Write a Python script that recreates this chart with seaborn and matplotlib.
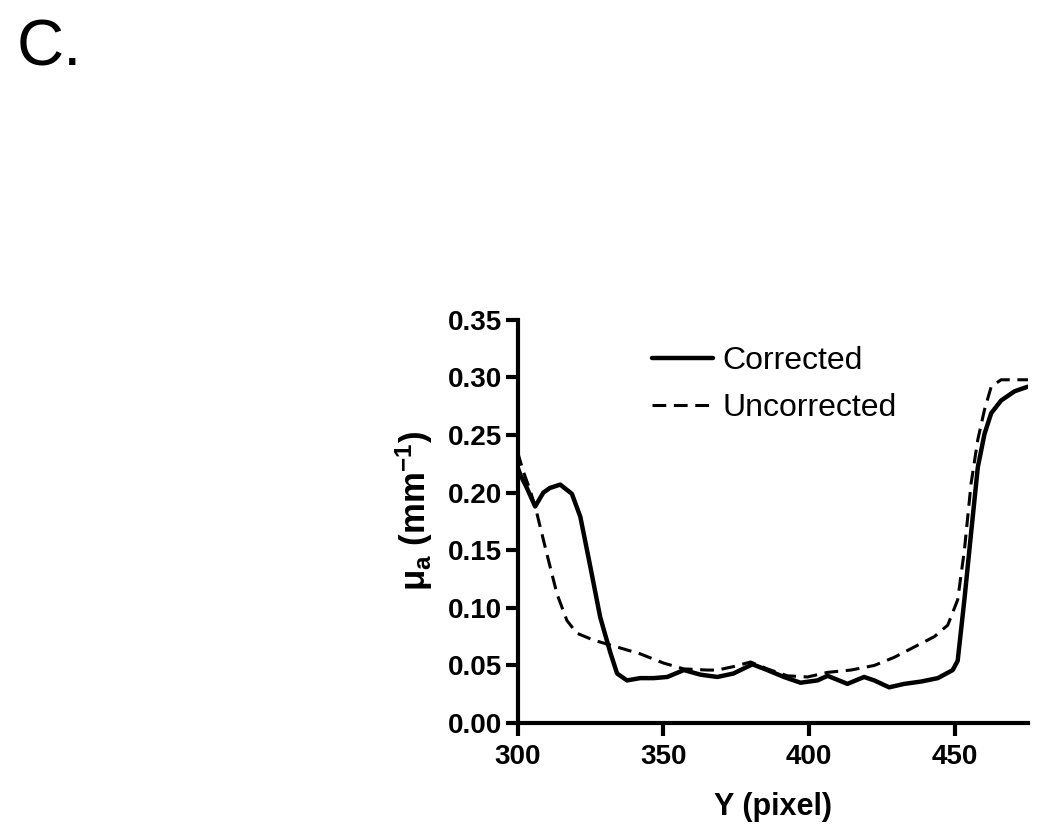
import numpy as np
import pandas as pd
import matplotlib
matplotlib.use('Agg')
import matplotlib.pyplot as plt
import seaborn as sns

# values
corr_x = [300, 301, 303, 306, 308.8, 311, 314.6, 318.6, 321.5, 324.9, 328.3, 331.8, 334.1,
          337.5, 342, 346.7, 351.3, 357, 362.7, 368.5, 374, 380.5, 385.6, 391.3, 397,
          402.8, 406.3, 413.1, 418.8, 422.3, 427.4, 432.6, 438.3, 444.1, 449.2, 450.9,
          453.2, 455.5, 457.8, 460.1, 462.4, 465.8, 470.4, 473.8, 475]
corr_y = [0.222, 0.215, 0.205, 0.188, 0.200, 0.204, 0.207, 0.199, 0.179, 0.136, 0.092, 0.061, 0.043,
          0.037, 0.039, 0.039, 0.040, 0.046, 0.042, 0.040, 0.043, 0.051, 0.046, 0.040, 0.035,
          0.037, 0.041, 0.034, 0.040, 0.037, 0.031, 0.034, 0.036, 0.039, 0.046, 0.054,
          0.107, 0.165, 0.222, 0.251, 0.269, 0.280, 0.288, 0.291, 0.292]

unc_x = [300, 302, 304.3, 306.6, 310, 313.5, 316.9, 320.3, 326, 334.1, 342.1, 350.1, 357,
         365, 368.5, 374, 379.9, 385.6, 392.5, 399.4, 406.3, 414.3, 422.3, 429.1, 436,
         442.9, 447.5, 450.9, 453.2, 455.5, 457.8, 460.1, 462.4, 465.8, 470, 475]
unc_y = [0.235, 0.218, 0.202, 0.182, 0.147, 0.112, 0.089, 0.078, 0.072, 0.066, 0.060, 0.052, 0.047,
         0.046, 0.046, 0.049, 0.053, 0.047, 0.041, 0.040, 0.044, 0.046, 0.050, 0.057, 0.066,
         0.075, 0.085, 0.107, 0.150, 0.208, 0.246, 0.272, 0.292, 0.298, 0.298, 0.298]

x_ticks = [300, 350, 400, 450]
y_ticks = [0.00, 0.05, 0.10, 0.15, 0.20, 0.25, 0.30, 0.35]

sns.set_style('ticks')
plt.rcParams['font.family'] = ['Liberation Sans', 'DejaVu Sans']
plt.rcParams['mathtext.fontset'] = 'custom'
plt.rcParams['mathtext.rm'] = 'Liberation Sans:bold'
plt.rcParams['mathtext.it'] = 'Liberation Sans:bold'
plt.rcParams['text.color'] = 'black'
plt.rcParams['axes.labelcolor'] = 'black'
plt.rcParams['xtick.color'] = 'black'
plt.rcParams['ytick.color'] = 'black'
plt.rcParams['axes.edgecolor'] = 'black'

fig = plt.figure(figsize=(10.5, 8.33), dpi=100)
ax = fig.add_axes([0.493, 0.132, 0.486, 0.484])

sns.lineplot(x=corr_x, y=corr_y, ax=ax, color='black', linewidth=3.2, label='Corrected')
sns.lineplot(x=unc_x, y=unc_y, ax=ax, color='black', linewidth=2.2, label='Uncorrected')
ax.lines[1].set_linestyle((0, (4.5, 2.5)))

ax.set_xlim(300, 475)
ax.set_ylim(0, 0.35)
ax.set_xticks(x_ticks)
ax.set_yticks(y_ticks)
ax.set_yticklabels([f'{v:.2f}' for v in y_ticks])

for s in ['top', 'right']:
    ax.spines[s].set_visible(False)
for s in ['left', 'bottom']:
    ax.spines[s].set_linewidth(3)
ax.tick_params(direction='out', length=9, width=3, labelsize=20)
ax.tick_params(axis='x', pad=6)
ax.tick_params(axis='y', pad=2)
for lab in ax.get_xticklabels() + ax.get_yticklabels():
    lab.set_fontweight('bold')

ax.set_xlabel('Y (pixel)', fontsize=22, fontweight='bold', labelpad=16)
ax.set_ylabel(r'$\mathrm{\mu_a}$ (mm$^{\mathrm{-1}}$)', fontsize=25, fontweight='bold')
ax.yaxis.set_label_coords(-0.162, 0.526)

leg = ax.legend(loc='upper left', bbox_to_anchor=(0.264, 0.935), frameon=False, fontsize=23,
                handlelength=1.9, handletextpad=0.3, labelspacing=0.54,
                borderpad=0, borderaxespad=0)

fig.text(0.016, 0.978, 'C.', fontsize=47, va='top', ha='left')

fig.savefig('out.png', dpi=100)
plt.close(fig)
